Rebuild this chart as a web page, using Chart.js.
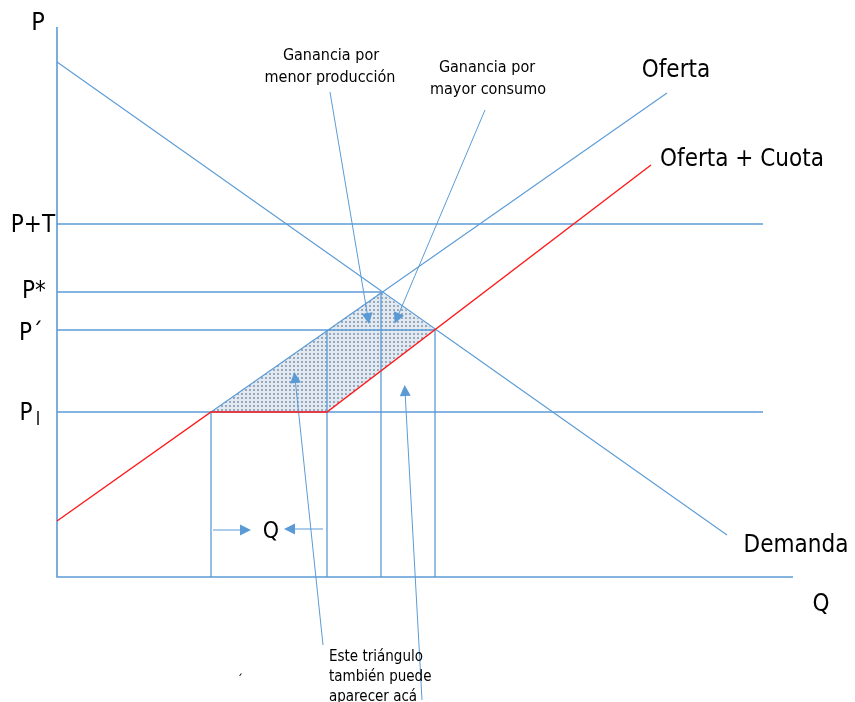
<!DOCTYPE html>
<html>
<head>
<meta charset="utf-8">
<script src="https://cdn.jsdelivr.net/npm/chart.js@4.4.1/dist/chart.umd.min.js"></script>
<style>
  html, body { margin: 0; padding: 0; background: #fff; }
  #wrap { width: 855px; height: 702px; }
</style>
</head>
<body>
<div id="wrap"><canvas id="grafico" width="855" height="702"></canvas></div>
<script>
// Niveles de precio y cantidad (unidades del diagrama, origen en el cruce de ejes)
const priceNames = ['P+T', 'P*', 'P´', 'Pl'];
const priceLevels = [353, 285, 247, 165];
const priceLineEnd = [706, 324, 378, 706];

const quantityLevels = [154, 270, 324, 378]; // Q1, Q2, Q*, Q'
const quantityTop = [165, 247, 285, 247];

const demandQ = [0, 670];
const demandP = [515, 42];
const supplyQ = [154, 610];
const supplyP = [165, 484];
const quotaQ = [0, 154, 270, 594];
const quotaP = [56, 165, 165, 412];

const gainQ = [154, 324, 378, 270, 154];
const gainP = [165, 285, 247, 165, 165];

const axisQ = [0, 0, 736];
const axisP = [550, 0, 0];

// flechas de las notas: [q0, p0, q1, p1]
const leaders = [
  [273, 485, 311, 259],
  [428, 467, 340, 259],
  [266, -68, 238, 199],
  [365, -123, 348, 186],
  [156, 47, 188, 47],
  [266, 48, 233, 48],
];

const textos = [
  { t: 'P', q: -19, p: 554, size: 25 },
  { t: 'Oferta', q: 619, p: 506, size: 24 },
  { t: 'Oferta + Cuota', q: 685, p: 417, size: 24 },
  { t: 'Demanda', q: 739, p: 31, size: 24 },
  { t: 'Q', q: 764, p: -28, size: 24 },
  { t: 'Q', q: 214, p: 45, size: 23 },
  { t: 'Ganancia por', q: 274, p: 521, size: 16 },
  { t: 'menor producción', q: 273, p: 499, size: 16 },
  { t: 'Ganancia por', q: 430, p: 509, size: 16 },
  { t: 'mayor consumo', q: 431, p: 487, size: 16 },
  { t: 'Este triángulo', q: 272, p: -80, size: 15, align: 'left' },
  { t: 'también puede', q: 272, p: -100, size: 15, align: 'left' },
  { t: 'aparecer acá', q: 272, p: -120, size: 15, align: 'left' },
  { t: '´', q: 183, p: -104, size: 14 },
];
const priceLabelPos = [[-24, 351], [-23, 285], [-26, 243], [-31, 163]];

const FONT = '"Liberation Sans Narrow", "DejaVu Sans Condensed", "Liberation Sans", sans-serif';
const AZUL = '#5b9bd5';
const ROJO = '#ff1a1a';

function pts(qs, ps) {
  return qs.map((q, i) => ({ x: q, y: ps[i] }));
}
function linea(qs, ps, color, width, order) {
  return { data: pts(qs, ps), borderColor: color, borderWidth: width, showLine: true, pointRadius: 0, fill: false, order: order };
}

// patrón de puntos para el área sombreada
const pc = document.createElement('canvas');
pc.width = 4;
pc.height = 4;
const pctx = pc.getContext('2d');
pctx.fillStyle = '#e3e9f0';
pctx.fillRect(0, 0, 4, 4);
pctx.fillStyle = '#98a9bd';
pctx.fillRect(1, 1, 2, 2);
const patron = pctx.createPattern(pc, 'repeat');

const datasets = [];
datasets.push({ data: pts(gainQ, gainP), borderColor: 'rgba(0,0,0,0)', borderWidth: 0, showLine: true, pointRadius: 0, fill: 'shape', backgroundColor: patron, order: 10 });
datasets.push(linea(axisQ, axisP, AZUL, 1.6, 5));
priceLevels.forEach((p, i) => datasets.push(linea([0, priceLineEnd[i]], [p, p], AZUL, 1.3, 5)));
quantityLevels.forEach((q, i) => datasets.push(linea([q, q], [0, quantityTop[i]], AZUL, 1.3, 5)));
datasets.push(linea(demandQ, demandP, AZUL, 1.1, 4));
datasets.push(linea(supplyQ, supplyP, AZUL, 1.1, 4));
leaders.forEach((l) => datasets.push(linea([l[0], l[2]], [l[1], l[3]], AZUL, 1, 4)));
datasets.push(linea(quotaQ, quotaP, ROJO, 1.4, 1));

const dibujos = {
  id: 'dibujos',
  afterDatasetsDraw(chart) {
    const ctx = chart.ctx;
    const xs = chart.scales.x, ys = chart.scales.y;
    ctx.save();
    // puntas de flecha
    ctx.fillStyle = AZUL;
    leaders.forEach((l) => {
      const x0 = xs.getPixelForValue(l[0]), y0 = ys.getPixelForValue(l[1]);
      const x1 = xs.getPixelForValue(l[2]), y1 = ys.getPixelForValue(l[3]);
      const a = Math.atan2(y1 - y0, x1 - x0);
      const len = 11, half = 5.5;
      const tx = x1 + Math.cos(a) * 6, ty = y1 + Math.sin(a) * 6;
      ctx.beginPath();
      ctx.moveTo(tx, ty);
      ctx.lineTo(tx - len * Math.cos(a) + half * Math.sin(a), ty - len * Math.sin(a) - half * Math.cos(a));
      ctx.lineTo(tx - len * Math.cos(a) - half * Math.sin(a), ty - len * Math.sin(a) + half * Math.cos(a));
      ctx.closePath();
      ctx.fill();
    });
    // textos
    ctx.fillStyle = '#000';
    ctx.textBaseline = 'middle';
    textos.forEach((o) => {
      ctx.font = o.size + 'px ' + FONT;
      ctx.textAlign = o.align || 'center';
      ctx.fillText(o.t, xs.getPixelForValue(o.q), ys.getPixelForValue(o.p));
    });
    ctx.font = '24px ' + FONT;
    ctx.textAlign = 'center';
    priceNames.forEach((n, i) => {
      const x = xs.getPixelForValue(priceLabelPos[i][0]);
      const y = ys.getPixelForValue(priceLabelPos[i][1]);
      if (n === 'Pl') {
        ctx.fillText('P', x, y);
        ctx.font = '18px ' + FONT;
        ctx.fillText('l', x + 12, y + 6);
        ctx.font = '24px ' + FONT;
      } else {
        ctx.fillText(n, x, y);
      }
    });
    ctx.restore();
  },
};

new Chart(document.getElementById('grafico'), {
  type: 'scatter',
  data: { datasets: datasets },
  options: {
    responsive: false,
    animation: false,
    layout: { padding: 0 },
    plugins: { legend: { display: false }, tooltip: { enabled: false } },
    scales: {
      x: { type: 'linear', min: -57, max: 798, display: false },
      y: { type: 'linear', min: -125, max: 577, display: false },
    },
  },
  plugins: [dibujos],
});
</script>
</body>
</html>
